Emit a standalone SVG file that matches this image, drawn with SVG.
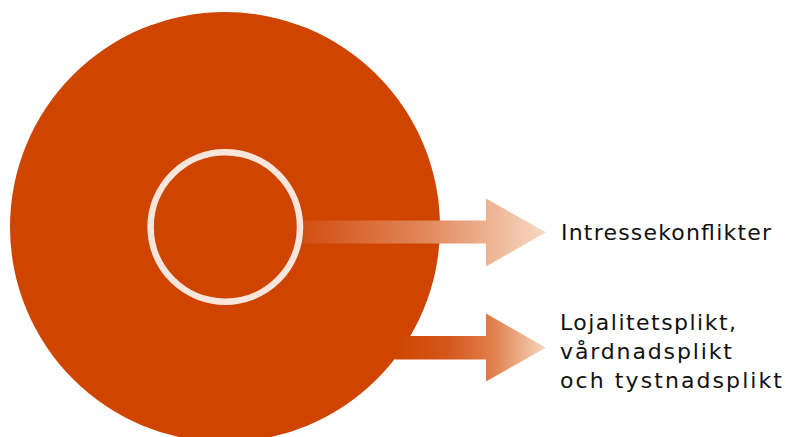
<svg xmlns="http://www.w3.org/2000/svg" width="785" height="437" viewBox="0 0 785 437">
  <style>
    .label { font-family: "DejaVu Sans", "Liberation Sans", sans-serif; font-size: 22px; fill: #111111; }
  </style>
  <defs>
    <linearGradient id="g1" gradientUnits="userSpaceOnUse" x1="303" y1="0" x2="546" y2="0">
      <stop offset="0" stop-color="#D14E12"/>
      <stop offset="0.5" stop-color="#E2875A"/>
      <stop offset="1" stop-color="#F7DAC4"/>
    </linearGradient>
    <linearGradient id="g2" gradientUnits="userSpaceOnUse" x1="395" y1="0" x2="546" y2="0">
      <stop offset="0" stop-color="#CF4500"/>
      <stop offset="0.35" stop-color="#D4571A"/>
      <stop offset="0.65" stop-color="#E17F4C"/>
      <stop offset="1" stop-color="#F6D8C0"/>
    </linearGradient>
  </defs>
  <rect width="785" height="437" fill="#FFFFFF"/>
  <g id="big-circle">
    <circle cx="225" cy="227" r="215" fill="#CF4500"/>
  </g>
  <g id="connectors">
    <polygon id="arrow-1" points="300,220.5 486,220.5 486,198.5 546,232.3 486,266.5 486,243.5 300,243.5" fill="url(#g1)"/>
    <polygon id="arrow-2" points="395,336 486,336 486,313.5 546,347.7 486,381.5 486,359.5 395,359.5" fill="url(#g2)"/>
  </g>
  <g id="inner-ring">
    <circle cx="225.3" cy="227" r="74.7" fill="#CF4500" stroke="#F8E6DC" stroke-width="6.5"/>
  </g>
  <g id="label-1">
    <text class="label" x="561" y="239.5" textLength="210" lengthAdjust="spacing">Intressekonflikter</text>
  </g>
  <g id="label-2">
    <text class="label" x="560" y="330" textLength="176" lengthAdjust="spacing">Lojalitetsplikt,</text>
    <text class="label" x="560" y="359" textLength="172" lengthAdjust="spacing">vårdnadsplikt</text>
    <text class="label" x="560" y="388" textLength="222" lengthAdjust="spacing">och tystnadsplikt</text>
  </g>
</svg>
